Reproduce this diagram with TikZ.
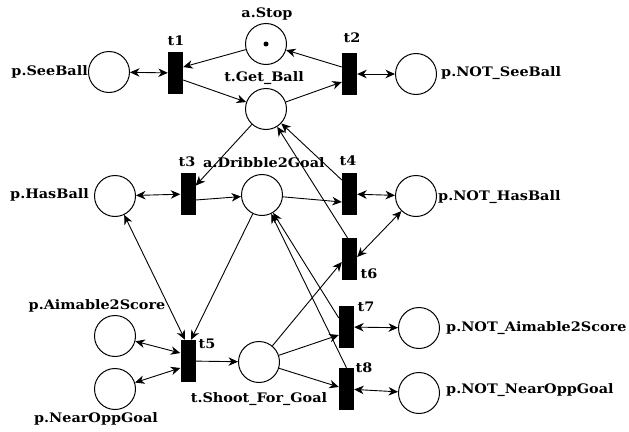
\documentclass[tikz,border=0pt]{standalone}
\usepackage{fontspec}
\setmainfont{DejaVu Serif}[FakeStretch=1.1]
\usetikzlibrary{arrows.meta,calc}
\begin{document}
\begin{tikzpicture}[x=1pt,y=-1pt,
  place/.style={circle,draw,line width=1pt,minimum size=41pt,inner sep=0pt},
  trans/.style={rectangle,fill=black,minimum width=15pt,minimum height=42pt,inner sep=0pt},
  token/.style={circle,fill=black,minimum size=5pt,inner sep=0pt},
  lbl/.style={inner sep=0pt,font=\bfseries\fontsize{13.1}{15}\selectfont},
  arc/.style={line width=0.9pt,-{Stealth[length=9.5pt,width=8.5pt,inset=3pt]}},
  biarc/.style={line width=0.9pt,{Stealth[length=9.5pt,width=8.5pt,inset=3pt]}-{Stealth[length=9.5pt,width=8.5pt,inset=3pt]}}]
\useasboundingbox (0,0) rectangle (629,431);

% places
\node[place] (stop)    at (266,44)  {};
\node[token] (tok)     at (266,44)  {};
\node[place] (seeball) at (109,72)  {};
\node[place] (notsee)  at (416,74)  {};
\node[place] (getball) at (266,109) {};
\node[place] (hasball) at (115,196) {};
\node[place] (dribble) at (262,195) {};
\node[place] (nothas)  at (416,196) {};
\node[place] (aim)     at (115,336) {};
\node[place] (near)    at (115,389) {};
\node[place] (shoot)   at (259,362) {};
\node[place] (notaim)  at (419,328) {};
\node[place] (notnear) at (419,393) {};

% transitions
\node[trans] (t1) at (175.5,73)  {};
\node[trans] (t2) at (349.5,74)  {};
\node[trans] (t3) at (188,194)   {};
\node[trans] (t4) at (349.5,194) {};
\node[trans] (t5) at (188,361)   {};
\node[trans] (t6) at (349.5,259) {};
\node[trans] (t7) at (346.5,327) {};
\node[trans] (t8) at (346.5,389) {};

% labels
\node[lbl] (lstop)    at (267,14)  {a.Stop};
\node[lbl] (lt1)      at (176,41)  {t1};
\node[lbl,anchor=east] (lseeball) at (88,72) {p.SeeBall};
\node[lbl] (lt2)      at (352,38)  {t2};
\node[lbl,anchor=west] (lnotsee) at (441,73) {p.NOT\_SeeBall};
\node[lbl] (lgetball) at (264,78)  {t.Get\_Ball};
\node[lbl] (lt3)      at (187,162) {t3};
\node[lbl,anchor=west] (ldribble) at (203,163) {a.Dribble2Goal};
\node[lbl] (lt4)      at (348,161) {t4};
\node[lbl,anchor=east] (lhasball) at (89,195) {p.HasBall};
\node[lbl,anchor=west] (lnothas) at (438,197) {p.NOT\_HasBall};
\node[lbl] (lt6)      at (369,274) {t6};
\node[lbl] (laim)     at (97,306)  {p.Aimable2Score};
\node[lbl] (lnear)    at (96,419)  {p.NearOppGoal};
\node[lbl] (lt5)      at (207,344) {t5};
\node[lbl] (lshoot)   at (259,399) {t.Shoot\_For\_Goal};
\node[lbl] (lt7)      at (366,307) {t7};
\node[lbl] (lt8)      at (364,368) {t8};
\node[lbl,anchor=west] (lnotaim)  at (446,328) {p.NOT\_Aimable2Score};
\node[lbl,anchor=west] (lnotnear) at (446,390) {p.NOT\_NearOppGoal};

% arcs around t1 and t2
\draw[biarc] (seeball) -- (t1);
\draw[arc] (stop) -- ([yshift=6pt]t1.east);
\draw[arc] ([yshift=-7pt]t1.east) -- (getball);
\draw[arc] ([yshift=7pt]t2.west) -- (stop);
\draw[arc] (getball) -- ([yshift=-8pt]t2.west);
\draw[biarc] (t2) -- (notsee);

% arcs around t3 and t4
\draw[arc] (getball) -- (t3);
\draw[biarc] (hasball) -- (t3);
\draw[arc] ([yshift=-6pt]t3.east) -- (dribble);
\draw[arc] (dribble) -- ([yshift=-8pt]t4.west);
\draw[biarc] (t4) -- (nothas);
\draw[arc] ([yshift=14pt]t4.west) -- (getball);

% arcs around t6
\draw[arc] ([xshift=-2pt]t6.north) -- (getball);
\draw[biarc] ([yshift=2pt]t6.east) -- (nothas);
\draw[arc] (shoot) -- ([yshift=-3pt]t6.west);

% arcs around t5
\draw[biarc] (hasball) -- ([xshift=-3pt]t5.north);
\draw[arc] (dribble) -- ([xshift=3pt]t5.north);
\draw[biarc] (aim) -- ([yshift=8pt]t5.west);
\draw[biarc] (near) -- ([yshift=-7pt]t5.west);
\draw[arc] (t5) -- (shoot);

% arcs around t7 and t8
\draw[arc] (shoot) -- ([yshift=-8pt]t7.west);
\draw[arc] (shoot) -- ([yshift=2pt]t8.west);
\draw[arc] ([yshift=9pt]t7.west) -- (dribble);
\draw[arc] (t8.north) -- (dribble);
\draw[biarc] (t7) -- (notaim);
\draw[biarc] (t8) -- (notnear);
\end{tikzpicture}
\end{document}
